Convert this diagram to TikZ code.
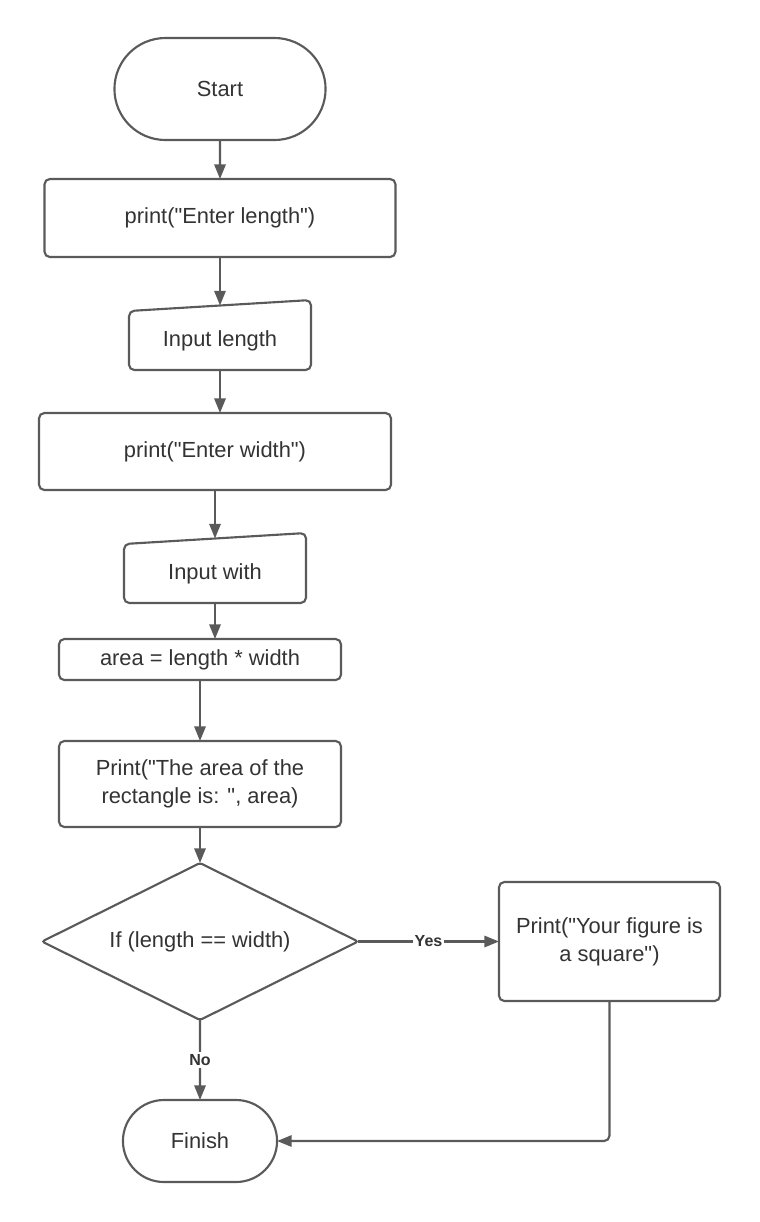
\documentclass[tikz,border=0pt]{standalone}
\usepackage{fontspec}
\setmainfont{Liberation Sans}[Ligatures=TeXOff]
\usetikzlibrary{positioning,shapes.geometric,shapes.misc,arrows.meta}
\definecolor{linegray}{HTML}{5A5A5A}
\definecolor{textgray}{HTML}{333333}

\begin{document}
\begin{tikzpicture}[x=0.75pt,y=0.75pt,
			font=\fontsize{16.4}{21}\selectfont,text=textgray,
			term/.style={draw=linegray,line width=1.6pt,outer sep=0pt,rounded rectangle},
			proc/.style={draw=linegray,line width=1.6pt,outer sep=0pt,rectangle,rounded corners=4pt,align=center},
			io/.style={rectangle,outer sep=0pt,text height=20pt,text depth=3.5pt,minimum width=136.5pt,minimum height=52.5pt},
			iobox/.style={draw=linegray,line width=1.6pt,rounded corners=4pt},
			cond/.style={draw=linegray,line width=1.6pt,outer sep=0pt,diamond,aspect=2,inner sep=0pt,rounded corners=2pt},
			arr/.style={draw=linegray,line width=1.6pt,-{Triangle[length=11pt,width=8.5pt]}},
			lbl/.style={font=\fontsize{12}{14}\selectfont\bfseries,fill=white,inner sep=1.5pt}]
			\useasboundingbox (0,0) rectangle (760,-1222);
			% main column
			\node (start) [term,minimum width=165pt,minimum height=76.5pt] at (220,-89) {Start};
			\node (len) [proc,minimum width=263.25pt,minimum height=58.5pt,below=29.25pt of start] {print("Enter length")};
			\node (inlen) [io,below=32.25pt of len] {Input length};
			\node (wid) [proc,minimum width=264pt,minimum height=57.75pt,below=32.25pt of inlen,xshift=-3.75pt] {print("Enter width")};
			\node (inwid) [io,below=32.25pt of wid] {Input with};
			\node (area) [proc,minimum width=211.5pt,minimum height=30.75pt,below=27pt of inwid,xshift=-11.25pt] {area = length * width};
			\node (parea) [proc,minimum width=211.5pt,minimum height=64.5pt,below=45.75pt of area] {Print("The area of the\\rectangle is: ", area)};
			\node (test) [cond,minimum width=237pt,minimum height=117.75pt,below=27pt of parea] {If (length == width)};
			\node (square) [proc,minimum width=165.75pt,minimum height=89.25pt,right=105.75pt of test] {Print("Your figure is\\a square")};
			\node (finish) [term,minimum width=122.25pt,minimum height=61.5pt,below=60pt of test] {Finish};
			% manual input shapes
			\draw[iobox] ([yshift=-8.25pt]inlen.north west) -- (inlen.north east) -- (inlen.south east) -- (inlen.south west) -- cycle;
			\draw[iobox] ([yshift=-8.25pt]inwid.north west) -- (inwid.north east) -- (inwid.south east) -- (inwid.south west) -- cycle;
			% connectors
			\draw[arr] (start) -- (len);
			\draw[arr] (len.south) -- ([yshift=-4.1pt]inlen.north);
			\draw[arr] (inlen.south) -- (inlen.south |- wid.north);
			\draw[arr] (wid.south) -- ([yshift=-4.1pt]inwid.north);
			\draw[arr] (inwid.south) -- (inwid.south |- area.north);
			\draw[arr] (area) -- (parea);
			\draw[arr] (parea) -- (test);
			\draw[arr] (test) -- node[lbl] {Yes} (square);
			\draw[arr] (test) -- node[lbl] {No} (finish);
			\draw[arr,rounded corners=4pt] (square.south) |- (finish.east);
		\end{tikzpicture}
\end{document}
